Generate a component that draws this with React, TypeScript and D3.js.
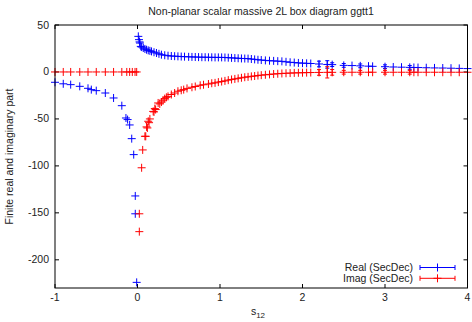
import React from "react";
import * as d3 from "d3";

// ---- data ----
const realX = [-1, -0.9, -0.81, -0.7, -0.6, -0.56, -0.5, -0.39, -0.29, -0.19, -0.14, -0.12, -0.095, -0.07, -0.046, -0.027, -0.027, -0.01,
  0.01, 0.018, 0.025, 0.03, 0.04, 0.05, 0.07, 0.09, 0.11, 0.13, 0.15, 0.17, 0.2, 0.23, 0.26, 0.29, 0.33, 0.37, 0.41, 0.45, 0.49, 0.53, 0.57, 0.62, 0.66, 0.7, 0.74, 0.78, 0.82, 0.86, 0.9, 0.94, 0.98,
  1.02, 1.06, 1.1, 1.14, 1.18, 1.22, 1.26, 1.3, 1.34, 1.38, 1.42, 1.46, 1.5, 1.55, 1.6, 1.65, 1.7, 1.75, 1.8, 1.85, 1.9, 1.95, 2.0, 2.05, 2.1,
  2.2, 2.3, 2.36, 2.5, 2.6, 2.7, 2.8, 2.85, 3.0, 3.1, 3.2, 3.3, 3.35, 3.4, 3.5, 3.6, 3.7, 3.8, 3.9, 4.0];
const realY = [-11, -12.6, -13.5, -15.3, -17.4, -18.8, -19.9, -22.4, -27.7, -35.9, -49, -50.7, -56.4, -71, -88, -132, -151, -224,
  37.9, 34.4, 32, 30.8, 27.2, 26.5, 25.5, 24.5, 23.7, 23, 22.5, 21.9, 21, 20.2, 19.3, 18.4, 17.8, 17.3, 17, 16.8, 16.6, 16.4, 16.3, 16.1, 16, 15.9, 15.8, 15.7, 15.7, 15.6, 15.6, 15.5, 15.5,
  15.5, 15.4, 15.2, 15, 14.8, 14.6, 14.4, 14.3, 14.2, 13.8, 13.4, 13, 12.7, 12.3, 12, 11.8, 11.5, 11.3, 10.8, 10.3, 10, 9.6, 9.4, 9.2, 9,
  8.5, 8, 7.8, 7, 6.8, 6.5, 6.2, 6, 5.6, 5.3, 5.1, 4.9, 4.8, 4.7, 4.5, 4.3, 4.2, 4, 3.8, 3.6];
const realErr = [0, 0, 0, 0, 0, 0, 0, 0, 0, 0, 0, 0, 0, 0, 0, 0, 0, 0,
  0, 0, 0, 0, 0, 0, 0, 0, 0, 0, 0, 0, 0, 0, 0, 0, 0, 0, 0, 0, 0, 0, 0, 0, 0, 0, 0, 0, 0, 0, 0, 0, 0,
  0, 0, 0, 0, 0, 0, 0, 0, 0, 0, 0, 0, 0, 0, 0, 0, 0, 0, 0, 0, 0, 0, 0, 0, 0,
  3, 4, 2, 2, 0, 2, 0, 0, 2, 0, 0, 2, 0, 0, 0, 0, 0, 0, 0, 0];

const imagX = [-1, -0.9, -0.81, -0.7, -0.6, -0.5, -0.39, -0.29, -0.19, -0.13, -0.095, -0.063, -0.03, -0.01,
  0.022, 0.022, 0.05, 0.063, 0.09, 0.1, 0.11, 0.12, 0.13, 0.14, 0.15, 0.19, 0.2, 0.21, 0.22, 0.25, 0.27, 0.29, 0.31, 0.33, 0.35, 0.37, 0.41, 0.45, 0.49, 0.53, 0.56, 0.6, 0.66, 0.7, 0.76, 0.8, 0.86, 0.9, 0.94, 0.98,
  1.02, 1.06, 1.1, 1.14, 1.18, 1.22, 1.26, 1.3, 1.34, 1.38, 1.42, 1.46, 1.5, 1.55, 1.6, 1.65, 1.7, 1.75, 1.8, 1.85, 1.9, 1.95, 2.0, 2.05, 2.1,
  2.2, 2.3, 2.36, 2.5, 2.6, 2.7, 2.8, 2.85, 3.0, 3.1, 3.2, 3.3, 3.35, 3.4, 3.5, 3.6, 3.7, 3.8, 3.9, 4.0];
const imagY = [0, 0, 0, 0, 0, 0, 0, 0, 0, 0, 0, 0, 0, 0,
  -170, -151, -102, -83, -68.5, -68.5, -58.5, -59.6, -52.5, -54, -50, -42, -42.5, -39, -40, -33, -34, -32, -30, -28.4, -27, -26, -24, -22.4, -20.5, -19.5, -18.8, -17.5, -16.3, -15.5, -14.2, -13.6, -12.8, -12, -11.6, -10.8,
  -10.2, -9.5, -8.7, -8, -7.4, -6.8, -6.2, -5.6, -5.2, -4.7, -4.3, -3.8, -3.4, -3, -2.6, -2.2, -1.9, -1.6, -1.4, -1.2, -1, -0.9, -0.8, -0.7, -0.6,
  -0.5, -0.4, -0.4, -0.3, -0.3, -0.3, -0.3, -0.3, -0.3, -0.3, -0.3, -0.3, -0.3, -0.3, -0.3, -0.3, -0.3, -0.3, -0.3, -0.3];
const imagErr = [0, 0, 0, 0, 0, 0, 0, 0, 0, 0, 0, 0, 0, 0,
  0, 0, 0, 0, 0, 0, 0, 0, 0, 0, 0, 0, 0, 0, 0, 0, 0, 0, 0, 0, 0, 0, 0, 0, 0, 0, 0, 0, 0, 0, 0, 0, 0, 0, 0, 0,
  0, 0, 0, 0, 0, 0, 0, 0, 0, 0, 0, 0, 0, 0, 0, 0, 0, 0, 0, 0, 0, 0, 0, 0, 0,
  3, 6, 3, 2, 0, 2, 0, 0, 2, 0, 0, 2, 0, 0, 0, 0, 0, 0, 0, 0];

const xTicks = [-1, 0, 1, 2, 3, 4];
const yTicks = [50, 0, -50, -100, -150, -200];
const seriesNames = ["Real (SecDec)", "Imag (SecDec)"];
const seriesColors = ["#0000ff", "#ff0000"];

const W = 472, H = 322;
const L = 55, R = 467.5, T = 25, B = 288;
const FONT = "'Liberation Sans', Arial, sans-serif";

function plus(x: number, y: number, s = 4) {
  return `M${x - s},${y}H${x + s}M${x},${y - s}V${y + s}`;
}

export default function App() {
  const x = d3.scaleLinear().domain([-1, 4]).range([L, R]);
  const y = d3.scaleLinear().domain([-230, 50]).range([B, T]);

  const series = [
    { xs: realX, ys: realY, es: realErr },
    { xs: imagX, ys: imagY, es: imagErr },
  ];

  return (
    <svg width={W} height={H} style={{ position: "absolute", left: 0, top: 0, background: "#fff" }}>
      <rect width={W} height={H} fill="#fff" />
      <text x={261} y={15} textAnchor="middle" fontFamily={FONT} fontSize={10.5} fill="#222">
        Non-planar scalar massive 2L box diagram ggtt1
      </text>
      {/* ticks */}
      {xTicks.map((t) => (
        <g key={"x" + t}>
          <line x1={x(t)} x2={x(t)} y1={B} y2={B - 4} stroke="#000" />
          <line x1={x(t)} x2={x(t)} y1={T} y2={T + 4} stroke="#000" />
          <text x={x(t)} y={301} textAnchor="middle" fontFamily={FONT} fontSize={10.5} fill="#222">
            {t}
          </text>
        </g>
      ))}
      {yTicks.map((t) => (
        <g key={"y" + t}>
          <line x1={L} x2={L + 4} y1={y(t)} y2={y(t)} stroke="#000" />
          <line x1={R} x2={R - 4} y1={y(t)} y2={y(t)} stroke="#000" />
          <text x={49} y={y(t) + 3.5} textAnchor="end" fontFamily={FONT} fontSize={10.5} fill="#222">
            {t}
          </text>
        </g>
      ))}
      <text x={258} y={315} textAnchor="middle" fontFamily={FONT} fontSize={10.5} fill="#222">
        s<tspan fontSize={8} dy={3}>12</tspan>
      </text>
      <text transform={`translate(13,${(T + B) / 2}) rotate(-90)`} textAnchor="middle" fontFamily={FONT} fontSize={10.5} fill="#222">
        Finite real and imaginary part
      </text>
      {/* data */}
      {series.map((s, si) => (
        <g key={si} stroke={seriesColors[si]} strokeWidth={1} fill="none">
          {s.xs.map((xv, i) => {
            const px = x(xv), py = y(s.ys[i]);
            const e = s.es[i];
            return (
              <g key={i}>
                <path d={plus(px, py)} />
                {e > 0 && (
                  <path
                    d={`M${px},${y(s.ys[i] + e)}V${y(s.ys[i] - e)}M${px - 2},${y(s.ys[i] + e)}H${px + 2}M${px - 2},${y(s.ys[i] - e)}H${px + 2}`}
                  />
                )}
              </g>
            );
          })}
        </g>
      ))}
      {/* legend */}
      {seriesNames.map((n, i) => {
        const ly = 267.5 + i * 10.8;
        return (
          <g key={n}>
            <text x={413} y={ly + 3.5} textAnchor="end" fontFamily={FONT} fontSize={10.5} fill="#222">
              {n}
            </text>
            <g stroke={seriesColors[i]} strokeWidth={1}>
              <line x1={420} x2={455} y1={ly} y2={ly} />
              <line x1={420} x2={420} y1={ly - 2.5} y2={ly + 2.5} />
              <line x1={455} x2={455} y1={ly - 2.5} y2={ly + 2.5} />
              <path d={plus(437.5, ly)} />
            </g>
          </g>
        );
      })}
      <rect x={L} y={T} width={R - L} height={B - T} fill="none" stroke="#000" strokeWidth={1} />
    </svg>
  );
}
